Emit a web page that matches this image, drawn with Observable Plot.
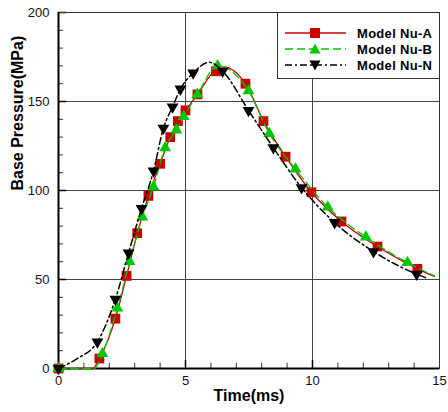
<!DOCTYPE html>
<html><head><meta charset="utf-8">
<script src="https://cdn.jsdelivr.net/npm/d3@7"></script>
<script src="https://cdn.jsdelivr.net/npm/@observablehq/plot@0.6"></script>
<style>
body{margin:0;background:#fff;}
#wrap{position:relative;width:448px;height:412px;font-family:"Liberation Sans",Arial,sans-serif;}
#legend{position:absolute;left:277px;top:12px;}
</style></head>
<body><div id="wrap"><div id="chart"></div><div id="legend"></div></div>
<script>
const timeTicks = [0, 5, 10, 15];
const pressureTicks = [0, 50, 100, 150, 200];
const gridTime = [5, 10];
const gridPressure = [50, 100, 150];
const minorTimeTicks = [1, 2, 3, 4, 6, 7, 8, 9, 11, 12, 13, 14];
const minorPressureTicks = [10, 20, 30, 40, 60, 70, 80, 90, 110, 120, 130, 140, 160, 170, 180, 190];
const xLabel = "Time(ms)";
const yLabel = "Base Pressure(MPa)";
const seriesNames = ["Model Nu-A", "Model Nu-B", "Model Nu-N"];
const seriesColors = ["#cc0000", "#00c800", "#000000"];

// Model Nu-A (red squares)
const markersA = [[0,0],[1.61,5.6],[2.24,28],[2.68,52],[3.1,76],[3.54,97],[4.0,115],[4.4,130],[4.7,139],[5.0,145],[5.47,154],[6.2,167],[7.36,160],[8.07,139],[8.94,119],[9.96,99],[11.14,82.6],[12.56,68.5],[14.13,56]];
const lineA = [[0,0],[1.35,0],[1.61,5.6],[2.24,28],[2.68,52],[3.1,76],[3.54,97],[4.0,115],[4.4,130],[4.7,139],[5.0,145],[5.47,154],[6.2,168],[6.5,169.5],[7.36,160],[8.07,139],[8.94,119],[9.96,99],[11.14,82.6],[12.56,68.5],[14.13,56],[14.8,51.7]];
// Model Nu-B (green triangles)
const markersB = [[0,0],[1.73,8.4],[2.32,34],[2.8,60],[3.3,85],[3.74,102],[4.2,124],[4.64,134],[4.93,141.5],[5.47,154],[6.26,170],[7.48,156],[8.3,132],[9.33,112],[10.6,90.7],[12.1,73.8],[13.74,59.5]];
const lineB = [[0,0],[1.4,0],[1.73,8.4],[2.32,34],[2.8,60],[3.3,85],[3.74,102],[4.2,124],[4.64,134],[4.93,141.5],[5.47,154],[6.26,170],[7.48,156],[8.3,132],[9.33,112],[10.6,90.7],[12.1,73.8],[13.74,59.5],[14.8,52]];
// Model Nu-N (black down triangles)
const markersN = [[0,0],[1.53,15],[2.24,39],[2.76,65],[3.27,90],[3.74,111],[4.13,135],[4.49,147],[4.8,157],[5.3,166],[6.46,167],[7.48,145],[8.46,124],[9.57,101.6],[10.87,82],[12.4,65.7],[14.1,53]];
const lineN = [[0,0],[0.4,2.8],[0.74,5.6],[1.53,15],[2.24,39],[2.76,65],[3.27,90],[3.74,111],[4.13,135],[4.49,147],[4.8,157],[5.3,166],[5.94,172],[6.46,167],[7.48,145],[8.46,124],[9.57,101.6],[10.87,82],[12.4,65.7],[14.1,53],[14.45,51]];

const X = d => d[0], Y = d => d[1];
const chart = Plot.plot({
  width: 448, height: 412,
  marginLeft: 58, marginRight: 9, marginTop: 12, marginBottom: 44,
  style: {fontFamily: "Liberation Sans, Arial, sans-serif", fontSize: "13px", color: "#111", background: "#fff"},
  x: {domain: [0, 15]},
  y: {domain: [0, 200]},
  marks: [
    Plot.ruleX(gridTime, {stroke: "#444", strokeWidth: 1}),
    Plot.ruleY(gridPressure, {stroke: "#444", strokeWidth: 1}),
    Plot.ruleX(minorTimeTicks, {y1: () => 0, y2: () => 3, stroke: "#333"}),
    Plot.ruleX(gridTime, {y1: () => 0, y2: () => 4.5, stroke: "#000", strokeWidth: 1.5}),
    Plot.ruleY(minorPressureTicks, {x1: () => 0, x2: () => 0.2, stroke: "#333"}),
    Plot.ruleY(pressureTicks, {x1: () => 0, x2: () => 0.32, stroke: "#000", strokeWidth: 1.5}),
    Plot.frame({stroke: "#333", strokeWidth: 1}),
    Plot.ruleX([0], {stroke: "#000", strokeWidth: 2}),
    Plot.ruleY([0], {stroke: "#000", strokeWidth: 2}),
    Plot.axisX({ticks: timeTicks, tickSize: 0, tickPadding: 7, tickFormat: d => d, label: null, fontSize: 13}),
    Plot.axisY({ticks: pressureTicks, tickSize: 0, tickPadding: 9, tickFormat: d => d, label: null, fontSize: 13}),
    Plot.text([xLabel], {text: d => d, frameAnchor: "bottom", dy: 32, fontWeight: "bold", fontSize: 16, fill: "#000"}),
    Plot.text([yLabel], {text: d => d, frameAnchor: "left", dx: -41, rotate: -90, fontWeight: "bold", fontSize: 16, fill: "#000"}),
    Plot.line(lineA, {x: X, y: Y, stroke: seriesColors[0], strokeWidth: 1.3, curve: "monotone-x"}),
    Plot.dot(markersA, {x: X, y: Y, symbol: "square", r: 5.5, fill: seriesColors[0]}),
    Plot.line(lineB, {x: X, y: Y, stroke: seriesColors[1], strokeWidth: 1.3, strokeDasharray: "8,4", curve: "monotone-x"}),
    Plot.dot(markersB, {x: X, y: Y, symbol: "triangle", r: 4.4, fill: seriesColors[1]}),
    Plot.line(lineN, {x: X, y: Y, stroke: seriesColors[2], strokeWidth: 1.5, strokeDasharray: "7,3,2,3", curve: "monotone-x"}),
    Plot.dot(markersN, {x: X, y: Y, symbol: "triangle", rotate: 180, r: 4.4, fill: seriesColors[2]})
  ]
});
document.getElementById("chart").appendChild(chart);

// legend
const dashes = [null, "8,4", "7,3,2,3"];
const sq = 10;
const tri = (cx, cy, s, down) => down
  ? `M${cx-s/2},${cy-s*0.4}L${cx+s/2},${cy-s*0.4}L${cx},${cy+s*0.5}Z`
  : `M${cx-s/2},${cy+s*0.4}L${cx+s/2},${cy+s*0.4}L${cx},${cy-s*0.5}Z`;
let svg = `<svg width="163" height="67" xmlns="http://www.w3.org/2000/svg"><rect x="0.5" y="0.5" width="162" height="66" fill="#fff" stroke="#333"/>`;
seriesNames.forEach((name, i) => {
  const cy = 21 + i * 16;
  svg += `<line x1="8" x2="69" y1="${cy}" y2="${cy}" stroke="${seriesColors[i]}" stroke-width="1.4" ${dashes[i] ? `stroke-dasharray="${dashes[i]}"` : ""}/>`;
  if (i === 0) svg += `<rect x="${38-sq/2}" y="${cy-sq/2}" width="${sq}" height="${sq}" fill="${seriesColors[i]}"/>`;
  else svg += `<path d="${tri(38, cy, 11, i === 2)}" fill="${seriesColors[i]}"/>`;
  svg += `<text x="80" y="${cy}" dy="0.35em" font-family="Liberation Sans, Arial, sans-serif" font-weight="bold" font-size="13" letter-spacing="0.3" fill="#000">${name}</text>`;
});
svg += `</svg>`;
document.getElementById("legend").innerHTML = svg;
</script>
</body></html>
